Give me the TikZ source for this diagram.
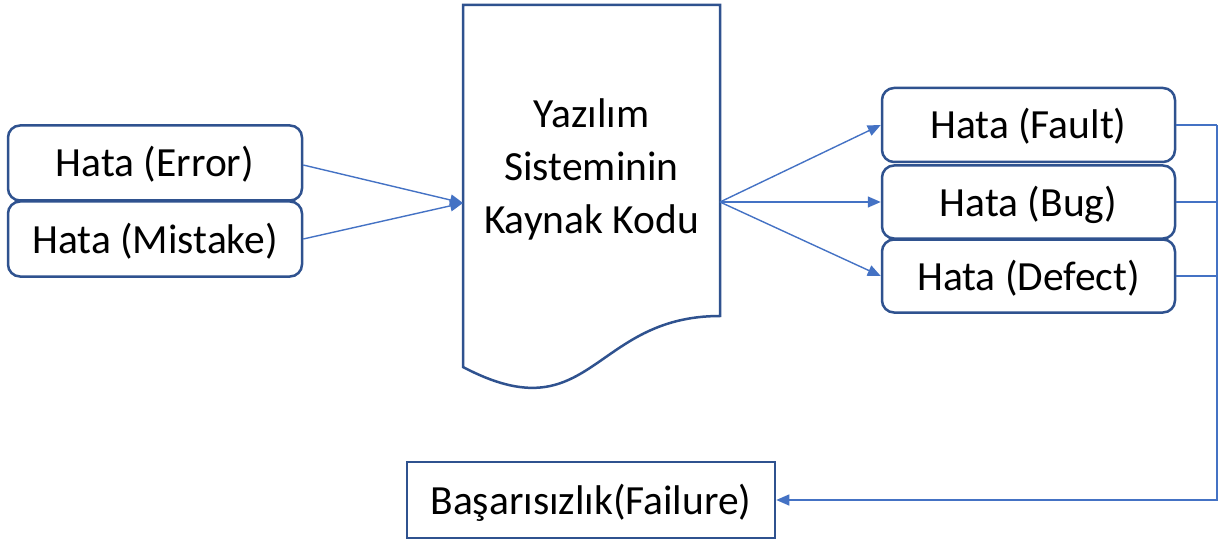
\documentclass[tikz,border=0pt]{standalone}
\usepackage{fontspec}
\setmainfont{Carlito}
\usetikzlibrary{arrows.meta}
\definecolor{boxblue}{HTML}{2F528F}
\definecolor{lineblue}{HTML}{4472C4}
\begin{document}
\begin{tikzpicture}[x=1pt,y=-1pt,
  every node/.style={font=\fontsize{41.5}{53}\selectfont, text=black, inner sep=0pt},
  lbl/.style={text height=34pt, text depth=6pt},
  rbox/.style={lbl, draw=boxblue, line width=2.5pt, rounded corners=12pt, fill=white},
  sbox/.style={lbl, draw=boxblue, line width=2.5pt, fill=white},
  conn/.style={draw=lineblue, line width=1.4pt},
  arr/.style={conn, -{Triangle[length=13pt,width=11pt]}}]
\useasboundingbox (0,0) rectangle (1220,540);
% left boxes
\node[rbox, minimum width=294pt, minimum height=75pt] (err) at (155,163) {Hata (Error)};
\node[rbox, minimum width=294pt, minimum height=75pt] (mis) at (155,239) {Hata (Mistake)};
% document shape
\draw[boxblue, line width=2.5pt, fill=white] (463,5) -- (720,5) -- (720,316)
  .. controls (591.5,316) and (591.5,434.7) .. (463,367) -- cycle;
\node[align=center] (doc) at (591.5,169) {Yazılım\\Sisteminin\\Kaynak Kodu};
\coordinate (docL) at (463,203);
\coordinate (docR) at (720,202);
% right boxes
\node[rbox, minimum width=293pt, minimum height=74pt] (fault) at (1028.5,125) {Hata (Fault)};
\node[rbox, minimum width=293pt, minimum height=73pt] (bug) at (1028.5,202) {Hata (Bug)};
\node[rbox, minimum width=293pt, minimum height=73pt] (defect) at (1028.5,276) {Hata (Defect)};
% bottom box
\node[sbox, minimum width=368pt, minimum height=76pt] (fail) at (591,500) {Başarısızlık(Failure)};
% connectors
\draw[arr] (err.east) ++(0,2) -- (docL);
\draw[arr] (mis.east) -- (docL);
\draw[arr] (docR) -- (fault.west);
\draw[arr] (docR) -- (bug.west);
\draw[arr] (docR) -- (defect.west);
\coordinate (bus) at (1217,500);
\draw[conn] (fault.east) -- (fault.east -| bus);
\draw[conn] (bug.east) -- (bug.east -| bus);
\draw[conn] (defect.east) -- (defect.east -| bus);
\draw[arr] (fault.east -| bus) -- (bus) -- (fail.east);
\end{tikzpicture}
\end{document}
